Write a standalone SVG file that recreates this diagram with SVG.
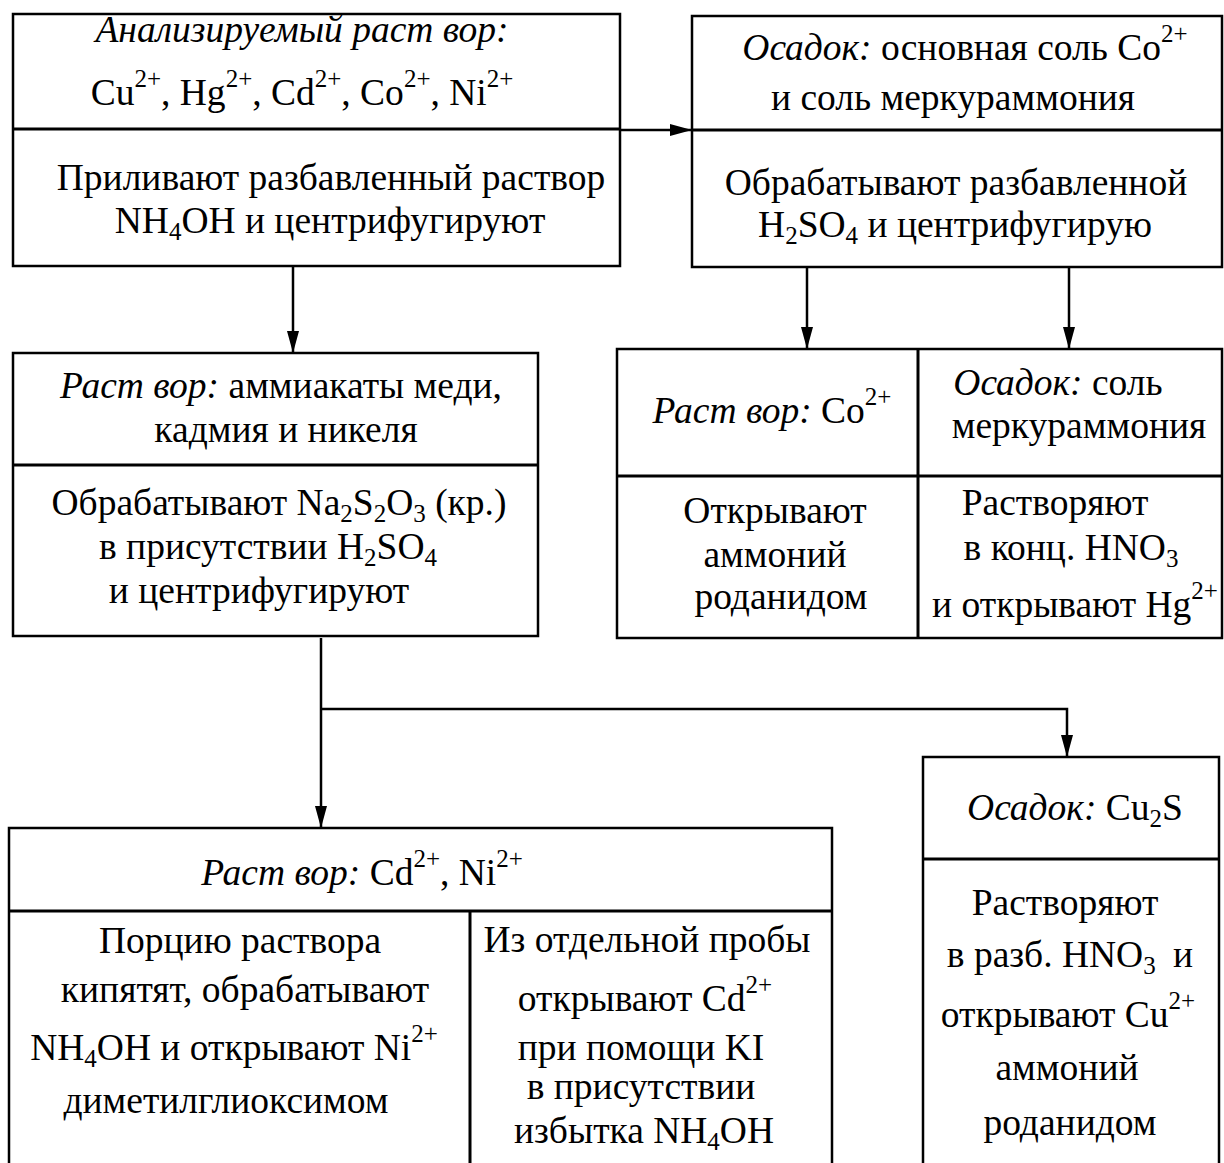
<svg xmlns="http://www.w3.org/2000/svg" width="1224" height="1163" viewBox="0 0 1224 1163">
<defs>
<marker id="ah" markerUnits="userSpaceOnUse" markerWidth="24" markerHeight="14" refX="22" refY="6" orient="auto">
<path d="M0,0 L22,6 L0,12 z" fill="#000"/>
</marker>
<style>
.box{fill:none;stroke:#000;stroke-width:2.5}
.div{stroke:#000;stroke-width:3;fill:none}
.con{stroke:#000;stroke-width:2.5;fill:none}
text{font-family:"Liberation Serif","Times New Roman",serif;font-size:37.5px;fill:#000;text-anchor:middle}
.i{font-style:italic}
.s{font-size:25px}
</style>
</defs>
<rect width="1224" height="1163" fill="#fff"/>

<g id="connectors">
<path class="con" d="M620,130 L692,130" marker-end="url(#ah)"/>
<path class="con" d="M293,266 L293,353" marker-end="url(#ah)"/>
<path class="con" d="M807,267 L807,349" marker-end="url(#ah)"/>
<path class="con" d="M1069,267 L1069,349" marker-end="url(#ah)"/>
<path class="con" d="M321,638 L321,828" marker-end="url(#ah)"/>
<path class="con" d="M321,709 L1067,709 L1067,757" marker-end="url(#ah)"/>
</g>

<g id="node-analyzed">
<rect class="box" x="13" y="14" width="607" height="252"/>
<line class="div" x1="13" y1="129" x2="620" y2="129"/>
<text class="i" x="302" y="42">Анализируемый раст вор:</text>
<text x="302" y="105">Cu<tspan class="s" dy="-18">2+</tspan><tspan dy="18">, Hg</tspan><tspan class="s" dy="-18">2+</tspan><tspan dy="18">, Cd</tspan><tspan class="s" dy="-18">2+</tspan><tspan dy="18">, Co</tspan><tspan class="s" dy="-18">2+</tspan><tspan dy="18">, Ni</tspan><tspan class="s" dy="-18">2+</tspan></text>
<text x="331" y="190">Приливают разбавленный раствор</text>
<text x="330" y="233">NH<tspan class="s" dy="7">4</tspan><tspan dy="-7">OH и центрифугируют</tspan></text>
</g>

<g id="node-precipitate1">
<rect class="box" x="692" y="16" width="530" height="251"/>
<line class="div" x1="692" y1="130" x2="1222" y2="130"/>
<text x="965" y="60"><tspan class="i">Осадок:</tspan> основная соль Co<tspan class="s" dy="-18">2+</tspan></text>
<text x="953" y="110">и соль меркураммония</text>
<text x="956" y="195">Обрабатывают разбавленной</text>
<text x="955" y="237">H<tspan class="s" dy="7">2</tspan><tspan dy="-7">SO</tspan><tspan class="s" dy="7">4</tspan><tspan dy="-7"> и центрифугирую</tspan></text>
</g>

<g id="node-solution1">
<rect class="box" x="13" y="353" width="525" height="283"/>
<line class="div" x1="13" y1="465" x2="538" y2="465"/>
<text x="281" y="398"><tspan class="i">Раст вор:</tspan> аммиакаты меди,</text>
<text x="286" y="442">кадмия и никеля</text>
<text x="279" y="515">Обрабатывают Na<tspan class="s" dy="7">2</tspan><tspan dy="-7">S</tspan><tspan class="s" dy="7">2</tspan><tspan dy="-7">O</tspan><tspan class="s" dy="7">3</tspan><tspan dy="-7"> (кр.)</tspan></text>
<text x="268" y="559">в присутствии H<tspan class="s" dy="7">2</tspan><tspan dy="-7">SO</tspan><tspan class="s" dy="7">4</tspan></text>
<text x="259" y="603">и центрифугируют</text>
</g>

<g id="node-co-hg">
<rect class="box" x="617" y="349" width="605" height="289"/>
<line class="div" x1="617" y1="476" x2="1222" y2="476"/>
<line class="div" x1="918" y1="349" x2="918" y2="638"/>
<text x="772" y="423"><tspan class="i">Раст вор:</tspan> Co<tspan class="s" dy="-18">2+</tspan></text>
<text x="1058" y="395"><tspan class="i">Осадок:</tspan> соль</text>
<text x="1079" y="438">меркураммония</text>
<text x="775" y="523">Открывают</text>
<text x="775" y="567">аммоний</text>
<text x="781" y="609">роданидом</text>
<text x="1055" y="515">Растворяют</text>
<text x="1071" y="560">в конц. HNO<tspan class="s" dy="7">3</tspan></text>
<text x="1075" y="617">и открывают Hg<tspan class="s" dy="-18">2+</tspan></text>
</g>

<g id="node-cd-ni">
<rect class="box" x="9" y="828" width="823" height="345"/>
<line class="div" x1="9" y1="911" x2="832" y2="911"/>
<line class="div" x1="470" y1="911" x2="470" y2="1173"/>
<text x="362" y="885"><tspan class="i">Раст вор:</tspan> Cd<tspan class="s" dy="-18">2+</tspan><tspan dy="18">, Ni</tspan><tspan class="s" dy="-18">2+</tspan></text>
<text x="240" y="953">Порцию раствора</text>
<text x="245" y="1002">кипятят, обрабатывают</text>
<text x="234" y="1060">NH<tspan class="s" dy="7">4</tspan><tspan dy="-7">OH и открывают Ni</tspan><tspan class="s" dy="-18">2+</tspan></text>
<text x="226" y="1113">диметилглиоксимом</text>
<text x="647" y="952">Из отдельной пробы</text>
<text x="645" y="1011">открывают Cd<tspan class="s" dy="-18">2+</tspan></text>
<text x="641" y="1060">при помощи KI</text>
<text x="641" y="1099">в присутствии</text>
<text x="644" y="1143">избытка NH<tspan class="s" dy="7">4</tspan><tspan dy="-7">OH</tspan></text>
</g>

<g id="node-cu2s">
<rect class="box" x="923" y="757" width="296" height="416"/>
<line class="div" x1="923" y1="859" x2="1219" y2="859"/>
<text x="1075" y="820"><tspan class="i">Осадок:</tspan> Cu<tspan class="s" dy="7">2</tspan><tspan dy="-7">S</tspan></text>
<text x="1065" y="915">Растворяют</text>
<text x="1070" y="967">в разб. HNO<tspan class="s" dy="7">3</tspan><tspan dy="-7" dx="8"> и</tspan></text>
<text x="1068" y="1027">открывают Cu<tspan class="s" dy="-18">2+</tspan></text>
<text x="1067" y="1080">аммоний</text>
<text x="1070" y="1135">роданидом</text>
</g>
</svg>
